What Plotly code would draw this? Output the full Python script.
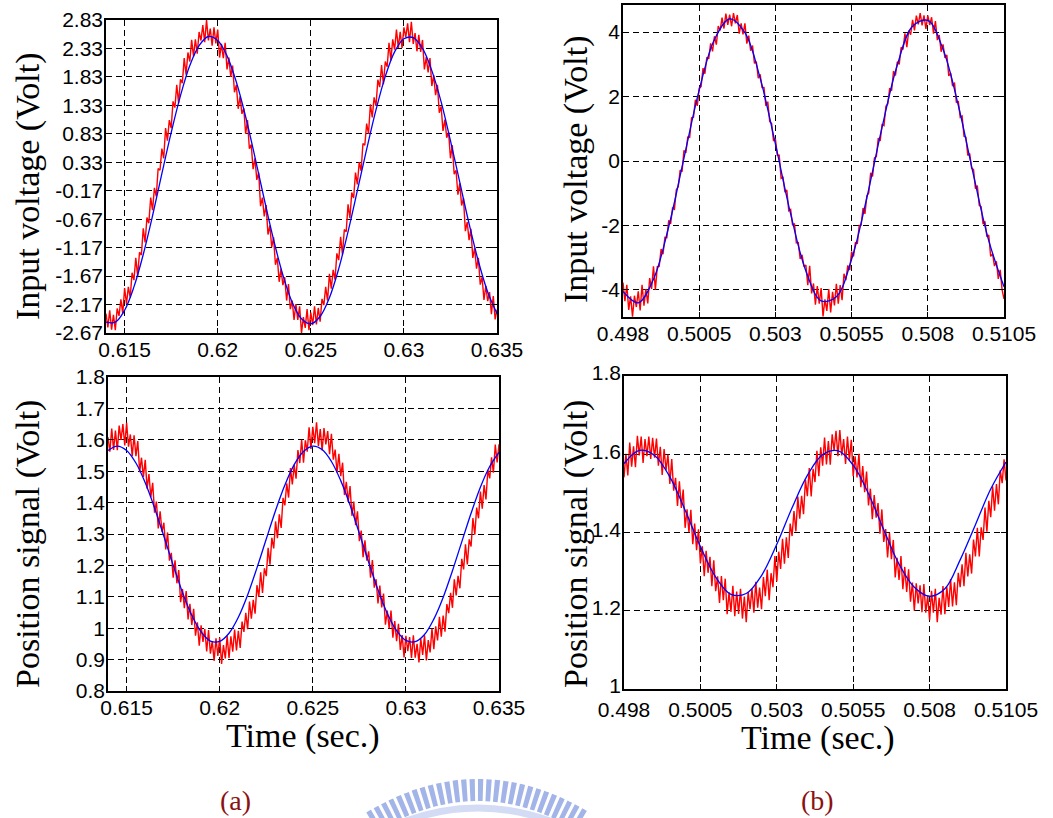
import numpy as np
import plotly.graph_objects as go

# ---------------- sample time grids ----------------
t_a_blue = np.round(0.614 + 0.0005 * np.arange(43), 6)
t_a_red = np.round(0.614 + 0.0001 * np.arange(211), 6)
t_b_blue = np.round(0.498 + 0.0005 * np.arange(26), 6)
t_b_red = np.round(0.498 + 0.0000625 * np.arange(201), 8)

# ---------------- (a) input voltage ----------------
a_vin_blue = [-2.48, -2.48, -2.27, -1.86, -1.29, -0.61, 0.13, 0.85, 1.50, 2.03,
              2.38, 2.54, 2.47, 2.20, 1.74, 1.13, 0.42, -0.32, -1.03, -1.65,
              -2.13, -2.42, -2.51, -2.38, -2.05, -1.54, -0.89, -0.17, 0.56, 1.25,
              1.84, 2.27, 2.50, 2.52, 2.33, 1.94, 1.39, 0.71, -0.02, -0.75,
              -1.41, -1.95, -2.33]
a_vin_red = [-2.33, -2.57, -2.27, -2.61, -2.35, -2.62, -2.24, -2.37, -2.08, -2.33,
             -1.88, -2.16, -1.86, -2.05, -1.61, -1.74, -1.35, -1.67, -1.25, -1.30,
             -0.83, -1.08, -0.64, -0.74, -0.29, -0.51, -0.12, -0.27, 0.22, 0.19,
             0.57, 0.40, 0.93, 0.71, 1.07, 0.93, 1.40, 1.29, 1.69, 1.37,
             1.79, 1.72, 2.16, 1.87, 2.26, 2.10, 2.48, 2.19, 2.49, 2.24,
             2.62, 2.47, 2.74, 2.44, 2.83, 2.47, 2.68, 2.38, 2.70, 2.42,
             2.66, 2.17, 2.41, 2.16, 2.43, 1.96, 2.17, 1.83, 2.03, 1.56,
             1.69, 1.27, 1.49, 1.18, 1.28, 0.83, 1.07, 0.57, 0.64, 0.21,
             0.40, 0.02, 0.15, -0.44, -0.29, -0.62, -0.42, -0.94, -0.78, -1.16,
             -0.99, -1.47, -1.35, -1.77, -1.54, -1.83, -1.69, -2.10, -1.81, -2.25,
             -2.10, -2.44, -2.16, -2.44, -2.20, -2.67, -2.39, -2.58, -2.25, -2.62,
             -2.31, -2.53, -2.20, -2.52, -2.23, -2.47, -2.07, -2.18, -1.86, -2.10,
             -1.63, -1.89, -1.56, -1.73, -1.27, -1.39, -0.98, -1.29, -0.85, -0.89,
             -0.41, -0.65, -0.20, -0.30, 0.15, -0.06, 0.33, 0.18, 0.66, 0.63,
             1.01, 0.83, 1.35, 1.12, 1.47, 1.32, 1.78, 1.65, 2.04, 1.70,
             2.10, 2.01, 2.43, 2.12, 2.49, 2.31, 2.66, 2.34, 2.62, 2.34,
             2.70, 2.53, 2.77, 2.44, 2.80, 2.41, 2.60, 2.28, 2.57, 2.27,
             2.48, 1.96, 2.18, 1.91, 2.16, 1.67, 1.86, 1.51, 1.69, 1.20,
             1.31, 0.88, 1.08, 0.76, 0.86, 0.40, 0.63, 0.12, 0.19, -0.24,
             -0.04, -0.43, -0.30, -0.88, -0.72, -1.04, -0.84, -1.35, -1.18, -1.54,
             -1.35, -1.82, -1.69, -2.09, -1.84, -2.11, -1.95, -2.34, -2.02, -2.43,
             -2.26]

# ---------------- (a) position signal ----------------
a_pos_blue = [1.566, 1.580, 1.566, 1.526, 1.463, 1.383, 1.293, 1.201, 1.114, 1.041,
              0.988, 0.959, 0.958, 0.984, 1.035, 1.106, 1.192, 1.284, 1.375, 1.456,
              1.521, 1.563, 1.580, 1.569, 1.531, 1.470, 1.392, 1.302, 1.210, 1.122,
              1.047, 0.992, 0.961, 0.957, 0.980, 1.029, 1.098, 1.183, 1.275, 1.366,
              1.449, 1.515, 1.560]
a_pos_red = [1.608, 1.562, 1.636, 1.568, 1.629, 1.567, 1.645, 1.600, 1.650, 1.582,
             1.654, 1.578, 1.617, 1.548, 1.614, 1.548, 1.596, 1.497, 1.543, 1.482,
             1.536, 1.444, 1.491, 1.417, 1.463, 1.368, 1.403, 1.318, 1.372, 1.307,
             1.336, 1.251, 1.305, 1.215, 1.240, 1.161, 1.216, 1.143, 1.185, 1.083,
             1.125, 1.064, 1.118, 1.028, 1.078, 1.010, 1.062, 0.976, 1.019, 0.944,
             1.009, 0.956, 0.997, 0.926, 0.994, 0.919, 0.959, 0.896, 0.968, 0.912,
             0.970, 0.886, 0.946, 0.904, 0.976, 0.905, 0.974, 0.925, 0.996, 0.929,
             0.992, 0.937, 1.021, 0.988, 1.049, 0.997, 1.085, 1.030, 1.090, 1.046,
             1.137, 1.100, 1.178, 1.112, 1.191, 1.166, 1.256, 1.202, 1.288, 1.254,
             1.340, 1.287, 1.363, 1.319, 1.415, 1.391, 1.461, 1.416, 1.510, 1.458,
             1.520, 1.476, 1.567, 1.526, 1.600, 1.527, 1.598, 1.562, 1.640, 1.571,
             1.641, 1.589, 1.656, 1.580, 1.634, 1.566, 1.637, 1.585, 1.628, 1.554,
             1.619, 1.537, 1.569, 1.495, 1.555, 1.484, 1.527, 1.424, 1.466, 1.402,
             1.453, 1.358, 1.403, 1.328, 1.372, 1.277, 1.311, 1.226, 1.280, 1.215,
             1.245, 1.161, 1.217, 1.129, 1.156, 1.079, 1.136, 1.066, 1.110, 1.011,
             1.056, 0.999, 1.056, 0.970, 1.023, 0.959, 1.014, 0.931, 0.978, 0.907,
             0.976, 0.927, 0.972, 0.905, 0.977, 0.906, 0.950, 0.891, 0.967, 0.915,
             0.977, 0.897, 0.962, 0.923, 0.999, 0.933, 1.006, 0.961, 1.036, 0.973,
             1.040, 0.989, 1.077, 1.048, 1.113, 1.065, 1.156, 1.104, 1.167, 1.127,
             1.221, 1.187, 1.267, 1.203, 1.283, 1.260, 1.351, 1.298, 1.384, 1.350,
             1.435, 1.381, 1.456, 1.410, 1.504, 1.477, 1.544, 1.495, 1.585, 1.528,
             1.586]

# ---------------- (b) input voltage ----------------
b_vin_blue = [-4.05, -4.40, -3.67, -2.04, 0.09, 2.20, 3.77, 4.41, 3.98, 2.57,
              0.53, -1.64, -3.41, -4.34, -4.21, -3.05, -1.14, 1.05, 2.98, 4.18,
              4.36, 3.47, 1.73, -0.44, -2.47, -3.90]
b_vin_red = [-3.77, -4.35, -3.84, -4.62, -4.20, -4.83, -4.18, -4.53, -4.04, -4.64,
             -3.84, -4.49, -3.97, -4.42, -3.63, -3.97, -3.27, -3.99, -3.28, -3.27,
             -2.73, -2.89, -2.37, -2.38, -1.84, -1.95, -1.46, -1.50, -0.89, -0.80,
             -0.28, -0.33, 0.33, 0.25, 0.74, 0.73, 1.34, 1.36, 1.90, 1.71,
             2.26, 2.31, 2.88, 2.71, 3.22, 3.17, 3.65, 3.40, 3.87, 3.61,
             4.19, 4.05, 4.45, 4.11, 4.57, 4.22, 4.54, 4.18, 4.59, 4.27,
             4.53, 3.95, 4.27, 3.93, 4.27, 3.64, 3.89, 3.42, 3.58, 3.03,
             3.08, 2.57, 2.69, 2.28, 2.28, 1.71, 1.84, 1.22, 1.17, 0.62,
             0.69, 0.18, 0.18, -0.54, -0.51, -0.97, -0.90, -1.54, -1.50, -1.99,
             -1.94, -2.54, -2.53, -3.04, -2.91, -3.28, -3.23, -3.85, -3.25, -4.11,
             -3.80, -4.46, -3.88, -4.43, -3.94, -4.82, -4.29, -4.65, -3.97, -4.70,
             -4.06, -4.48, -3.81, -4.43, -3.85, -4.32, -3.50, -3.70, -3.24, -3.38,
             -2.81, -2.96, -2.52, -2.57, -2.00, -1.99, -1.46, -1.64, -1.08, -0.99,
             -0.37, -0.48, 0.10, 0.14, 0.71, 0.62, 1.13, 1.10, 1.70, 1.77,
             2.26, 2.18, 2.79, 2.65, 3.08, 3.00, 3.53, 3.46, 3.96, 3.53,
             4.05, 3.92, 4.38, 4.05, 4.51, 4.24, 4.59, 4.21, 4.52, 4.10,
             4.52, 4.22, 4.46, 3.95, 4.34, 3.75, 3.91, 3.39, 3.62, 3.20,
             3.29, 2.64, 2.73, 2.32, 2.43, 1.81, 1.86, 1.36, 1.40, 0.77,
             0.74, 0.17, 0.23, -0.23, -0.26, -0.86, -0.76, -1.38, -1.42, -1.96,
             -1.87, -2.35, -2.30, -2.96, -2.88, -3.26, -3.11, -3.66, -3.38, -4.00,
             -4.28]

# ---------------- (b) position signal ----------------
b_pos_blue = [1.576, 1.610, 1.597, 1.542, 1.457, 1.364, 1.286, 1.242, 1.244, 1.290,
              1.370, 1.463, 1.546, 1.599, 1.609, 1.572, 1.499, 1.407, 1.319, 1.260,
              1.237, 1.256, 1.330, 1.420, 1.511, 1.580]
b_pos_red = [1.541, 1.601, 1.546, 1.630, 1.568, 1.620, 1.567, 1.647, 1.597, 1.645,
             1.578, 1.639, 1.595, 1.645, 1.588, 1.642, 1.591, 1.640, 1.571, 1.619,
             1.547, 1.613, 1.559, 1.599, 1.524, 1.588, 1.507, 1.540, 1.468, 1.531,
             1.463, 1.510, 1.412, 1.459, 1.401, 1.458, 1.370, 1.423, 1.355, 1.408,
             1.321, 1.365, 1.288, 1.353, 1.297, 1.338, 1.263, 1.329, 1.250, 1.288,
             1.220, 1.289, 1.227, 1.282, 1.191, 1.247, 1.197, 1.264, 1.186, 1.249,
             1.192, 1.256, 1.180, 1.236, 1.171, 1.248, 1.204, 1.257, 1.195, 1.274,
             1.208, 1.259, 1.204, 1.286, 1.237, 1.305, 1.227, 1.296, 1.260, 1.340,
             1.275, 1.351, 1.307, 1.384, 1.320, 1.388, 1.335, 1.423, 1.391, 1.455,
             1.403, 1.492, 1.435, 1.494, 1.447, 1.535, 1.493, 1.565, 1.492, 1.563,
             1.529, 1.609, 1.544, 1.618, 1.571, 1.643, 1.574, 1.634, 1.573, 1.651,
             1.609, 1.660, 1.595, 1.662, 1.597, 1.639, 1.575, 1.645, 1.584, 1.637,
             1.544, 1.595, 1.541, 1.601, 1.516, 1.570, 1.503, 1.556, 1.469, 1.512,
             1.434, 1.496, 1.438, 1.475, 1.397, 1.459, 1.376, 1.409, 1.336, 1.399,
             1.332, 1.381, 1.285, 1.335, 1.279, 1.340, 1.255, 1.312, 1.248, 1.306,
             1.223, 1.272, 1.200, 1.270, 1.219, 1.265, 1.196, 1.268, 1.195, 1.238,
             1.176, 1.251, 1.195, 1.256, 1.171, 1.233, 1.190, 1.263, 1.191, 1.261,
             1.210, 1.281, 1.211, 1.273, 1.214, 1.297, 1.260, 1.319, 1.263, 1.348,
             1.288, 1.344, 1.295, 1.382, 1.339, 1.412, 1.339, 1.413, 1.381, 1.464,
             1.402, 1.481, 1.439, 1.518, 1.456, 1.524, 1.472, 1.559, 1.526, 1.587,
             1.533]

# ---------------- ticks ----------------
a_xticks = [0.615, 0.62, 0.625, 0.63, 0.635]
a_xticklabels = ["0.615", "0.62", "0.625", "0.63", "0.635"]
b_xticks = [0.498, 0.5005, 0.503, 0.5055, 0.508, 0.5105]
b_xticklabels = ["0.498", "0.5005", "0.503", "0.5055", "0.508", "0.5105"]
a_vin_yticks = [-2.67, -2.17, -1.67, -1.17, -0.67, -0.17, 0.33, 0.83, 1.33, 1.83, 2.33, 2.83]
a_vin_yticklabels = ["-2.67", "-2.17", "-1.67", "-1.17", "-0.67", "-0.17",
                     "0.33", "0.83", "1.33", "1.83", "2.33", "2.83"]
b_vin_yticks = [-4, -2, 0, 2, 4]
b_vin_yticklabels = ["-4", "-2", "0", "2", "4"]
a_pos_yticks = [0.8, 0.9, 1.0, 1.1, 1.2, 1.3, 1.4, 1.5, 1.6, 1.7, 1.8]
a_pos_yticklabels = ["0.8", "0.9", "1", "1.1", "1.2", "1.3", "1.4", "1.5", "1.6", "1.7", "1.8"]
b_pos_yticks = [1.0, 1.2, 1.4, 1.6, 1.8]
b_pos_yticklabels = ["1", "1.2", "1.4", "1.6", "1.8"]

W, H = 1053, 818
RED = "#ff0000"
BLUE = "#0000ff"
SANS = "Liberation Sans, Arial, sans-serif"
SERIF = "Liberation Serif, Times New Roman, serif"

fig = go.Figure()

panels = [
    ("x", "y", t_a_red, a_vin_red, t_a_blue, a_vin_blue),
    ("x2", "y2", t_b_red, b_vin_red, t_b_blue, b_vin_blue),
    ("x3", "y3", t_a_red, a_pos_red, t_a_blue, a_pos_blue),
    ("x4", "y4", t_b_red, b_pos_red, t_b_blue, b_pos_blue),
]
for xa, ya, tr, yr, tb, yb in panels:
    fig.add_trace(go.Scatter(x=tr, y=yr, mode="lines", xaxis=xa, yaxis=ya,
                             line=dict(color=RED, width=1.4), showlegend=False,
                             hoverinfo="skip"))
    fig.add_trace(go.Scatter(x=tb, y=yb, mode="lines", xaxis=xa, yaxis=ya,
                             line=dict(color=BLUE, width=1.3, shape="spline", smoothing=1.0),
                             showlegend=False, hoverinfo="skip"))


def px_dom_x(a, b):
    return [a / W, b / W]


def px_dom_y(top, bottom):
    return [1 - bottom / H, 1 - top / H]


def axis_style(**kw):
    d = dict(showline=True, linecolor="black", linewidth=1.5, mirror="ticks",
             ticks="inside", ticklen=5, tickwidth=1, tickcolor="black",
             showgrid=True, gridcolor="black", gridwidth=1, griddash="6px,4px",
             zeroline=False, tickmode="array", automargin=False,
             ticklabelstandoff=-3,
             tickfont=dict(family=SANS, size=21, color="black"), fixedrange=True)
    d.update(kw)
    return d


fig.update_layout(
    width=W, height=H,
    margin=dict(l=0, r=0, t=0, b=0, pad=0),
    paper_bgcolor="white", plot_bgcolor="white",
    xaxis=axis_style(domain=px_dom_x(106, 497), anchor="y", range=[0.614, 0.635],
                     tickvals=a_xticks, ticktext=a_xticklabels),
    yaxis=axis_style(domain=px_dom_y(20, 333), anchor="x", range=[-2.67, 2.83],
                     tickvals=a_vin_yticks, ticktext=a_vin_yticklabels),
    xaxis2=axis_style(domain=px_dom_x(623, 1004), anchor="y2", range=[0.498, 0.5105],
                      tickvals=b_xticks, ticktext=b_xticklabels),
    yaxis2=axis_style(domain=px_dom_y(5, 317), anchor="x2", range=[-4.84, 4.84],
                      tickvals=b_vin_yticks, ticktext=b_vin_yticklabels),
    xaxis3=axis_style(domain=px_dom_x(108, 499), anchor="y3", range=[0.614, 0.635],
                      tickvals=a_xticks, ticktext=a_xticklabels),
    yaxis3=axis_style(domain=px_dom_y(377, 691), anchor="x3", range=[0.8, 1.8],
                      tickvals=a_pos_yticks, ticktext=a_pos_yticklabels),
    xaxis4=axis_style(domain=px_dom_x(624, 1006), anchor="y4", range=[0.498, 0.5105],
                      tickvals=b_xticks, ticktext=b_xticklabels, ticklabelstandoff=1),
    yaxis4=axis_style(domain=px_dom_y(376, 689), anchor="x4", range=[1.0, 1.8],
                      tickvals=b_pos_yticks, ticktext=b_pos_yticklabels,
                      ticklabelshift=-3),
)

# axis titles and panel captions
def ann(text, xpx, ypx, size, angle=0, color="black"):
    return dict(text=text, x=xpx / W, y=1 - ypx / H, xref="paper", yref="paper",
                xanchor="center", yanchor="middle", showarrow=False, textangle=angle,
                font=dict(family=SERIF, size=size, color=color))


fig.update_layout(annotations=[
    ann("Input voltage (Volt)", 28, 186, 34, -90),
    ann("Input voltage (Volt)", 576, 169, 34, -90),
    ann("Position signal (Volt)", 28, 544, 34, -90),
    ann("Position signal (Volt)", 576, 544, 34, -90),
    ann("Time (sec.)", 303, 736, 34),
    ann("Time (sec.)", 818, 738, 34),
    ann("(a)", 235, 800, 28, 0, "#8b1212"),
    ann("(b)", 817, 800, 28, 0, "#8b1212"),
])

# faint watermark (decorative logo arc at the bottom centre)
def pp(xpx, ypx):
    return f"{xpx / W:.5f},{1 - ypx / H:.5f}"


fig.update_layout(shapes=[
    dict(type="path", xref="paper", yref="paper",
         path=f"M {pp(372, 822)} Q {pp(478, 758)} {pp(584, 822)}",
         line=dict(color="#a3b5e8", width=22, dash="5px,3px"), layer="below"),
    dict(type="path", xref="paper", yref="paper",
         path=f"M {pp(398, 824)} Q {pp(478, 792)} {pp(558, 824)}",
         line=dict(color="#d3dcf4", width=7), layer="below"),
])

fig.write_html("out.html")
